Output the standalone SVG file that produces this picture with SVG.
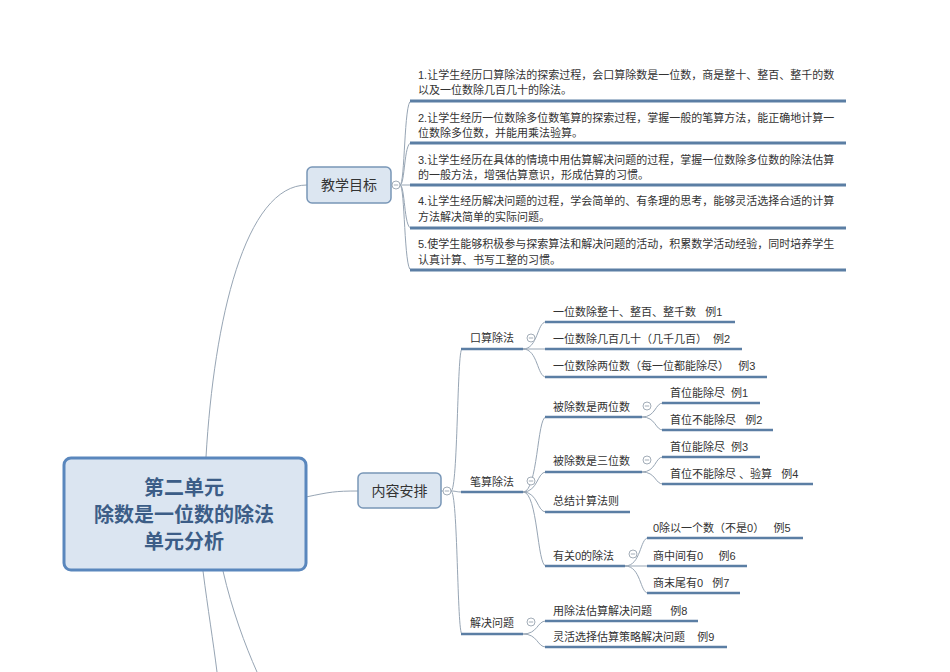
<svg xmlns="http://www.w3.org/2000/svg" width="950" height="672" viewBox="0 0 950 672">
<style>
text{font-family:"Liberation Sans","Noto Sans CJK SC",sans-serif;fill:#333;white-space:pre}
.t11{font-size:11px}
.t14{font-size:14px}
.root{font-size:20px;font-weight:bold;fill:#3c5d87;text-anchor:middle}
.mid{text-anchor:middle}
.conn{fill:none;stroke:#97a5b4;stroke-width:1}
.ul{fill:none;stroke:#5b7ea4;stroke-width:2.5}
.ul2{fill:none;stroke:#5b7ea4;stroke-width:3}
.box{fill:#dce6f1;stroke:#7896b7;stroke-width:1.5}
.col{fill:#fff;stroke:#a3adb8;stroke-width:1}
</style>
<defs>
<g id="collapse"><circle cx="0" cy="0" r="4" class="col"/><line x1="-2.2" y1="0" x2="2.2" y2="0" stroke="#a3adb8" stroke-width="1"/></g>
</defs>
<rect width="950" height="672" fill="#fff"/>

<g id="connectors">
<path class="conn" d="M206,457 C214,320 245,185 307,185"/>
<path class="conn" d="M306,497 C330,492 335,491 358,491"/>
<path class="conn" d="M203,571 C208,610 213,640 217,672"/>
<path class="conn" d="M223,571 C232,610 245,645 257,672"/>
<path class="conn" d="M391,185 L392,185"/>
<path class="conn" d="M400,185 C405,185 404,101 411,101"/>
<path class="conn" d="M400,185 C405,185 404,143 411,143"/>
<path class="conn" d="M400,185 L411,185"/>
<path class="conn" d="M400,185 C405,185 404,228 411,228"/>
<path class="conn" d="M400,185 C405,185 404,270 411,270"/>
<path class="conn" d="M441,491 L443,491"/>
<path class="conn" d="M451,491 C458,491 457,349 462,349"/>
<path class="conn" d="M451,491 C456,491 456,492 462,492"/>
<path class="conn" d="M451,491 C458,491 457,634 462,634"/>
<path class="conn" d="M523,349 C538,349 537,322 546,322"/>
<path class="conn" d="M523,349 L546,349"/>
<path class="conn" d="M523,349 C538,349 537,377 546,377"/>
<path class="conn" d="M523,492 C538,492 537,417 546,417"/>
<path class="conn" d="M523,492 C538,492 537,472 546,472"/>
<path class="conn" d="M523,492 C538,492 537,512 546,512"/>
<path class="conn" d="M523,492 C538,492 537,566 546,566"/>
<path class="conn" d="M523,634 C538,634 537,621 546,621"/>
<path class="conn" d="M523,634 C538,634 537,647 546,647"/>
<path class="conn" d="M642,417 C656,417 655,403 663,403"/>
<path class="conn" d="M642,417 C656,417 655,430 663,430"/>
<path class="conn" d="M642,472 C656,472 655,457 663,457"/>
<path class="conn" d="M642,472 C656,472 655,484 663,484"/>
<path class="conn" d="M625,566 C641,566 640,538 648,538"/>
<path class="conn" d="M625,566 L648,566"/>
<path class="conn" d="M625,566 C641,566 640,593 648,593"/>
</g>

<g id="root">
<rect x="64" y="458" width="242" height="112" rx="7" fill="#dbe5f1" stroke="#5a87bd" stroke-width="3"/>
<text class="root" x="184" y="495">第二单元</text>
<text class="root" x="184" y="522">除数是一位数的除法</text>
<text class="root" x="184" y="549">单元分析</text>
</g>

<g id="goals">
<rect class="box" x="307" y="167" width="84" height="36" rx="5"/>
<text class="t14 mid" x="349" y="190">教学目标</text>
<use href="#collapse" x="396" y="185"/>
</g>

<g id="goal1">
<text class="t11" x="418" y="79">1.让学生经历口算除法的探索过程，会口算除数是一位数，商是整十、整百、整千的数</text>
<text class="t11" x="418" y="94">以及一位数除几百几十的除法。</text>
<line class="ul2" x1="410" y1="101" x2="846" y2="101"/>
</g>
<g id="goal2">
<text class="t11" x="418" y="122">2.让学生经历一位数除多位数笔算的探索过程，掌握一般的笔算方法，能正确地计算一</text>
<text class="t11" x="418" y="137">位数除多位数，并能用乘法验算。</text>
<line class="ul2" x1="410" y1="143" x2="846" y2="143"/>
</g>
<g id="goal3">
<text class="t11" x="418" y="164">3.让学生经历在具体的情境中用估算解决问题的过程，掌握一位数除多位数的除法估算</text>
<text class="t11" x="418" y="179">的一般方法，增强估算意识，形成估算的习惯。</text>
<line class="ul2" x1="410" y1="185" x2="846" y2="185"/>
</g>
<g id="goal4">
<text class="t11" x="418" y="205">4.让学生经历解决问题的过程，学会简单的、有条理的思考，能够灵活选择合适的计算</text>
<text class="t11" x="418" y="221">方法解决简单的实际问题。</text>
<line class="ul2" x1="410" y1="228" x2="846" y2="228"/>
</g>
<g id="goal5">
<text class="t11" x="418" y="248">5.使学生能够积极参与探索算法和解决问题的活动，积累数学活动经验，同时培养学生</text>
<text class="t11" x="418" y="264">认真计算、书写工整的习惯。</text>
<line class="ul2" x1="410" y1="270" x2="846" y2="270"/>
</g>

<g id="content">
<rect class="box" x="358" y="473" width="83" height="35" rx="5"/>
<text class="t14 mid" x="399.5" y="496">内容安排</text>
<use href="#collapse" x="447" y="491"/>
</g>

<g id="oral">
<text class="t11" x="470" y="342">口算除法</text>
<line class="ul" x1="461" y1="349" x2="523" y2="349"/>
<use href="#collapse" x="531" y="338"/>
</g>
<g id="oral1"><text class="t11" x="553" y="316">一位数除整十、整百、整千数   例1</text><line class="ul" x1="545" y1="322" x2="735" y2="322"/></g>
<g id="oral2"><text class="t11" x="553" y="343">一位数除几百几十（几千几百）  例2</text><line class="ul" x1="545" y1="349" x2="742" y2="349"/></g>
<g id="oral3"><text class="t11" x="553" y="370">一位数除两位数（每一位都能除尽）   例3</text><line class="ul" x1="545" y1="377" x2="767" y2="377"/></g>

<g id="written">
<text class="t11" x="470" y="486">笔算除法</text>
<line class="ul" x1="461" y1="492" x2="523" y2="492"/>
<use href="#collapse" x="531" y="481"/>
</g>
<g id="two">
<text class="t11" x="553" y="411">被除数是两位数</text>
<line class="ul" x1="545" y1="417" x2="642" y2="417"/>
<use href="#collapse" x="647" y="406"/>
</g>
<g id="two1"><text class="t11" x="670" y="397">首位能除尽  例1</text><line class="ul" x1="662" y1="403" x2="760" y2="403"/></g>
<g id="two2"><text class="t11" x="670" y="424">首位不能除尽   例2</text><line class="ul" x1="662" y1="430" x2="773" y2="430"/></g>
<g id="three">
<text class="t11" x="553" y="465">被除数是三位数</text>
<line class="ul" x1="545" y1="472" x2="642" y2="472"/>
<use href="#collapse" x="647" y="460"/>
</g>
<g id="three1"><text class="t11" x="670" y="451">首位能除尽  例3</text><line class="ul" x1="662" y1="457" x2="760" y2="457"/></g>
<g id="three2"><text class="t11" x="670" y="478">首位不能除尽 、验算   例4</text><line class="ul" x1="662" y1="484" x2="813" y2="484"/></g>
<g id="summary"><text class="t11" x="553" y="505">总结计算法则</text><line class="ul" x1="545" y1="512" x2="630" y2="512"/></g>
<g id="zero">
<text class="t11" x="553" y="560">有关0的除法</text>
<line class="ul" x1="545" y1="566" x2="625" y2="566"/>
<use href="#collapse" x="633" y="554"/>
</g>
<g id="zero1"><text class="t11" x="653" y="532">0除以一个数（不是0）   例5</text><line class="ul" x1="647" y1="538" x2="803" y2="538"/></g>
<g id="zero2"><text class="t11" x="653" y="560">商中间有0     例6</text><line class="ul" x1="647" y1="566" x2="747" y2="566"/></g>
<g id="zero3"><text class="t11" x="653" y="587">商末尾有0   例7</text><line class="ul" x1="647" y1="593" x2="740" y2="593"/></g>

<g id="solve">
<text class="t11" x="470" y="627">解决问题</text>
<line class="ul" x1="461" y1="634" x2="523" y2="634"/>
<use href="#collapse" x="531" y="622"/>
</g>
<g id="solve1"><text class="t11" x="553" y="615">用除法估算解决问题      例8</text><line class="ul" x1="545" y1="621" x2="698" y2="621"/></g>
<g id="solve2"><text class="t11" x="553" y="641">灵活选择估算策略解决问题    例9</text><line class="ul" x1="545" y1="647" x2="727" y2="647"/></g>
</svg>
